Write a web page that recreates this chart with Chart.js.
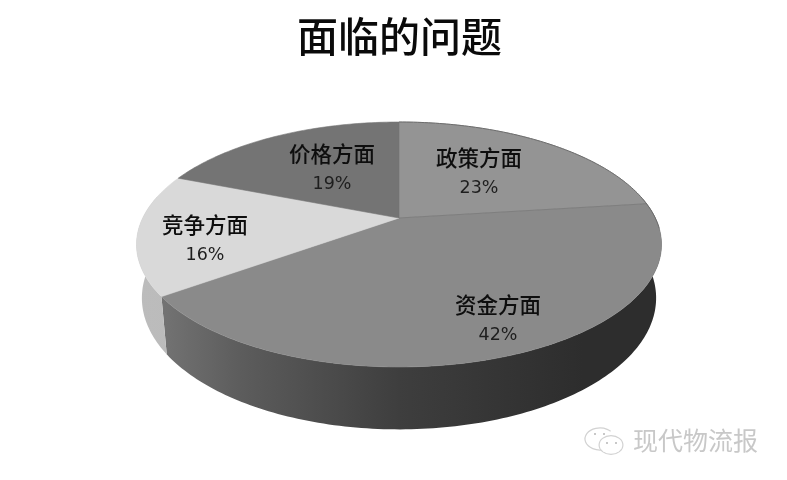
<!DOCTYPE html>
<html>
<head>
<meta charset="utf-8">
<style>
  html, body { margin: 0; padding: 0; background: #fff; }
  canvas { display: block; }
</style>
<script src="https://cdn.jsdelivr.net/npm/chart.js@4"></script>
</head>
<body>
<canvas id="mychart" width="787" height="480"></canvas>
<script>
var titleText = "面临的问题";
var categories = ["政策方面", "资金方面", "竞争方面", "价格方面"];
var shares = [23, 42, 16, 19];
var watermark = "现代物流报";

// looks
var faceColors = ["#949494", "#8a8a8a", "#d9d9d9", "#747474"];
var labelSpots = [[479, 158], [498, 305], [205, 225], [332, 154]];

// the tilted disc: the hub sits above the centre of the ellipse, like in excel 3d
var cx = 399, k = 0.2163, m = 0.02, A = 256.3, a = 69.6, b = 218, depth = 57.5;

function project(u, v, z) {
    var w = 1 - k * v + m * z;
    return { x: cx + A * u / w, y: (a * v + b + depth * z) / w };
}

function wallFill(ctx, i) {
    var g = ctx.createLinearGradient(137, 0, 662, 0);
    if (i == 2) {
        g.addColorStop(0, "#bcbcbc");
        g.addColorStop(1, "#b0b0b0");
        return g;
    }
    g.addColorStop(0.04, "#747474");
    g.addColorStop(0.2, "#5c5c5c");
    g.addColorStop(0.5, "#3e3e3e");
    g.addColorStop(0.85, "#2d2d2d");
    g.addColorStop(1, "#2d2d2d");
    return g;
}

var tiltedPie = {
    id: "tiltedPie",
    beforeDatasetsDraw: function (chart) {
        var ctx = chart.ctx;
        var arcs = chart.getDatasetMeta(0).data;
        var step = Math.PI / 180;

        // side wall first, the top faces cover what is behind
        arcs.forEach(function (arc, i) {
            var top = [], bottom = [];
            for (var t = arc.startAngle; t < arc.endAngle + step; t += step) {
                var e = Math.min(t, arc.endAngle);
                if (Math.sin(e) < -0.2) continue;
                top.push(project(Math.cos(e), Math.sin(e), 0));
                bottom.unshift(project(Math.cos(e), Math.sin(e), 1));
            }
            if (!top.length) return;
            ctx.beginPath();
            top.concat(bottom).forEach(function (p, n) {
                if (n == 0) ctx.moveTo(p.x, p.y); else ctx.lineTo(p.x, p.y);
            });
            ctx.closePath();
            ctx.fillStyle = wallFill(ctx, i);
            ctx.fill();
        });

        arcs.forEach(function (arc, i) {
            var hub = project(0, 0, 0);
            ctx.beginPath();
            ctx.moveTo(hub.x, hub.y);
            for (var t = arc.startAngle; t < arc.endAngle + step; t += step) {
                var e = Math.min(t, arc.endAngle);
                var p = project(Math.cos(e), Math.sin(e), 0);
                ctx.lineTo(p.x, p.y);
            }
            ctx.closePath();
            ctx.fillStyle = faceColors[i];
            ctx.strokeStyle = faceColors[i];
            ctx.lineWidth = 0.6;
            ctx.fill();
            ctx.stroke();
        });

        // faint seam between the two mid greys, darker back rim on the right
        var seam = project(Math.cos(arcs[0].endAngle), Math.sin(arcs[0].endAngle), 0);
        var hub = project(0, 0, 0);
        ctx.beginPath();
        ctx.moveTo(hub.x, hub.y);
        ctx.lineTo(seam.x, seam.y);
        ctx.strokeStyle = "#7e7e7e";
        ctx.lineWidth = 1;
        ctx.stroke();

        ctx.beginPath();
        for (var t = arcs[0].startAngle; t < 0.1; t += step) {
            var p = project(Math.cos(t), Math.sin(t), 0);
            if (t == arcs[0].startAngle) ctx.moveTo(p.x, p.y); else ctx.lineTo(p.x, p.y);
        }
        ctx.strokeStyle = "#6c6c6c";
        ctx.lineWidth = 1;
        ctx.stroke();
        return false;
    },
    afterDraw: function (chart) {
        var ctx = chart.ctx;
        ctx.save();
        // returning false above skips afterDatasetsDraw, so the labels go here
        ctx.textAlign = "center";
        ctx.textBaseline = "middle";
        categories.forEach(function (name, i) {
            ctx.fillStyle = "#0e0e0e";
            ctx.font = '500 21.5px "Noto Sans CJK SC"';
            ctx.fillText(name, labelSpots[i][0], labelSpots[i][1]);
            ctx.font = '17.5px "DejaVu Sans"';
            ctx.fillStyle = "#1e1e1e";
            ctx.fillText(shares[i] + "%", labelSpots[i][0], labelSpots[i][1] + 30);
        });

        // wechat mark and account name in the corner
        ctx.strokeStyle = "#d2d2d2";
        ctx.lineWidth = 1.2;
        ctx.beginPath();
        ctx.ellipse(600, 439, 15, 11, 0, 0.5, 5.5);
        ctx.stroke();
        ctx.fillStyle = "#d2d2d2";
        ctx.beginPath();
        ctx.ellipse(611, 445, 12.5, 10, 0, 0, Math.PI * 2);
        ctx.fill();
        ctx.fillStyle = "#fff";
        ctx.beginPath();
        ctx.ellipse(611, 445, 11.3, 8.8, 0, 0, Math.PI * 2);
        ctx.fill();
        ctx.fillStyle = "#c8c8c8";
        [[594, 433], [603, 433], [606, 442], [615, 442]].forEach(function (d) {
            ctx.fillRect(d[0], d[1], 2, 2);
        });
        ctx.textAlign = "left";
        ctx.font = '25px "Noto Sans CJK SC"';
        ctx.fillStyle = "#c8c8c8";
        ctx.fillText(watermark, 633, 440);
        ctx.restore();
    }
};

var ctx = document.getElementById("mychart");
var chart = new Chart(ctx, {
    type: "pie",
    data: {
        labels: categories,
        datasets: [{
            data: shares,
            backgroundColor: faceColors
        }]
    },
    options: {
        responsive: false,
        animation: false,
        layout: { padding: { left: 12 } },
        plugins: {
            legend: { display: false },
            tooltip: { enabled: false },
            title: {
                display: true,
                text: titleText,
                color: "#0a0a0a",
                font: { family: '"Noto Sans CJK SC"', size: 41, weight: "500" },
                padding: { top: 12, bottom: 10 }
            }
        }
    },
    plugins: [tiltedPie]
});
</script>
</body>
</html>
